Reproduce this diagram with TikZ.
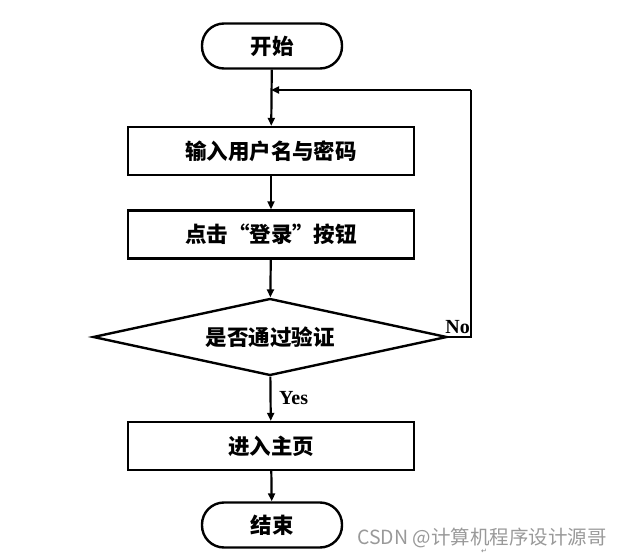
\documentclass[tikz,border=0pt]{standalone}
\usepackage{fontspec}
\setmainfont{Liberation Serif}
\newfontfamily\cjk{Noto Sans CJK SC}
\newfontfamily\symfont{DejaVu Sans}
\usetikzlibrary{shapes.geometric,arrows.meta}
\begin{document}
\begin{tikzpicture}[x=1pt,y=-1pt,
  box/.style={draw,line width=2.4pt,minimum width=286pt,minimum height=48pt,font=\cjk\bfseries\fontsize{21.5}{24}\selectfont,inner sep=0pt},
  term/.style={draw,line width=2.4pt,rounded corners=22pt,minimum width=140pt,minimum height=45pt,font=\cjk\bfseries\fontsize{21.5}{24}\selectfont,inner sep=0pt},
  dec/.style={draw,line width=2.4pt,diamond,aspect=4.7,minimum width=354pt,minimum height=77pt,font=\cjk\bfseries\fontsize{21.5}{24}\selectfont,inner sep=0pt},
  conn/.style={line width=2.2pt,-{Triangle[length=8pt,width=7pt]}},
  lbl/.style={font=\bfseries\fontsize{20}{22}\selectfont,inner sep=0pt}]
\useasboundingbox (0,0) rectangle (625,557);
\node[term] (start) at (272,46) {开始};
\node[box] (input) at (271,151) {输入用户名与密码};
\node[box] (click) at (271,234.5) {点击“登录”按钮};
\node[dec] (check) at (270,337) {是否通过验证};
\node[box] (home) at (271,446) {进入主页};
\node[term] (end) at (272,525) {结束};
\coordinate (loopR) at (471,90);
\coordinate (loopL) at (271,90);
\draw[conn] (start) -- (input);
\draw[conn] (input) -- (click);
\draw[conn] (click) -- (check);
\draw[conn] (check) -- (home);
\node[lbl,anchor=west] (yes) at (279,398) {Yes};
\draw[conn] (home) -- (end);
\draw[line width=2.2pt] (check.east) -- (check.east -| loopR) -- (loopR);
\draw[conn] (loopR) -- (loopL);
\node[lbl,anchor=south east] (no) at (470,334) {No};
\node[anchor=west,text=black!40,font=\cjk\fontsize{19.5}{22}\selectfont,inner sep=0pt] (wm) at (357,538) {CSDN @计算机程序设计源哥};
\node[text=black!50,font=\symfont\fontsize{7}{8}\selectfont,inner sep=0pt] (ret) at (484,551) {↵};
\end{tikzpicture}
\end{document}
